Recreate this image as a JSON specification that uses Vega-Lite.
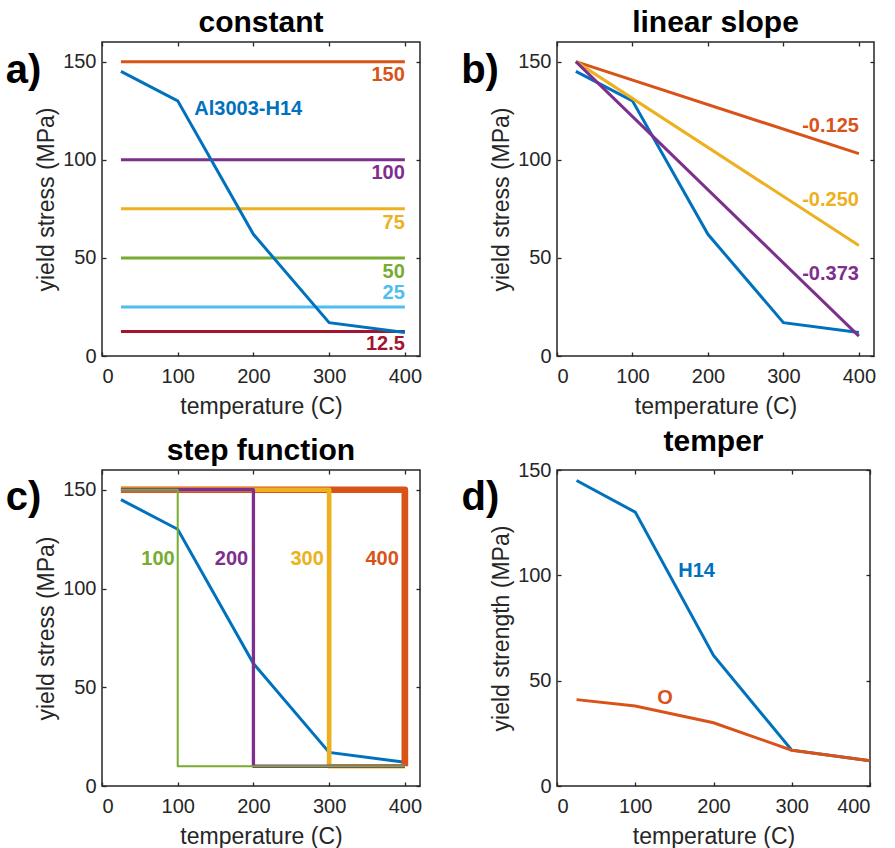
{
  "$schema": "https://vega.github.io/schema/vega-lite/v6.json",
  "background": "white",
  "autosize": {"type": "pad"},
  "padding": {"left": 5, "top": 7, "right": 5, "bottom": 5},
  "bounds": "flush",
  "columns": 2,
  "align": "all",
  "spacing": {"row": 112, "column": 137},
  "resolve": {"scale": {"x": "independent", "y": "independent", "color": "independent"}},
  "datasets": {
    "h14": [
      {"T": 25, "s": 145}, {"T": 100, "s": 130}, {"T": 200, "s": 62}, {"T": 300, "s": 17}, {"T": 400, "s": 12}
    ],
    "temperO": [
      {"T": 25, "s": 41}, {"T": 100, "s": 38}, {"T": 200, "s": 30}, {"T": 300, "s": 17}, {"T": 400, "s": 12}
    ],
    "constants": [
      {"level": "150", "T": 25, "s": 150}, {"level": "150", "T": 400, "s": 150},
      {"level": "100", "T": 25, "s": 100}, {"level": "100", "T": 400, "s": 100},
      {"level": "75", "T": 25, "s": 75}, {"level": "75", "T": 400, "s": 75},
      {"level": "50", "T": 25, "s": 50}, {"level": "50", "T": 400, "s": 50},
      {"level": "25", "T": 25, "s": 25}, {"level": "25", "T": 400, "s": 25},
      {"level": "12.5", "T": 25, "s": 12.5}, {"level": "12.5", "T": 400, "s": 12.5}
    ],
    "constLabels": [
      {"level": "150", "T": 400, "s": 143},
      {"level": "100", "T": 400, "s": 93},
      {"level": "75", "T": 400, "s": 68},
      {"level": "50", "T": 400, "s": 43},
      {"level": "25", "T": 400, "s": 32},
      {"level": "12.5", "T": 400, "s": 6}
    ],
    "slopes": [
      {"slope": "-0.125", "T": 25, "s": 150}, {"slope": "-0.125", "T": 400, "s": 103.1},
      {"slope": "-0.250", "T": 25, "s": 150}, {"slope": "-0.250", "T": 400, "s": 56.3},
      {"slope": "-0.373", "T": 25, "s": 150}, {"slope": "-0.373", "T": 400, "s": 10.1}
    ],
    "slopeLabels": [
      {"slope": "-0.125", "T": 400, "s": 117},
      {"slope": "-0.250", "T": 400, "s": 79.5},
      {"slope": "-0.373", "T": 400, "s": 42}
    ],
    "steps": [
      {"step": "100", "i": 1, "T": 25, "s": 150}, {"step": "100", "i": 2, "T": 100, "s": 150}, {"step": "100", "i": 3, "T": 100, "s": 10}, {"step": "100", "i": 4, "T": 400, "s": 10},
      {"step": "200", "i": 1, "T": 25, "s": 150}, {"step": "200", "i": 2, "T": 200, "s": 150}, {"step": "200", "i": 3, "T": 200, "s": 10}, {"step": "200", "i": 4, "T": 400, "s": 10},
      {"step": "300", "i": 1, "T": 25, "s": 150}, {"step": "300", "i": 2, "T": 300, "s": 150}, {"step": "300", "i": 3, "T": 300, "s": 10}, {"step": "300", "i": 4, "T": 400, "s": 10},
      {"step": "400", "i": 1, "T": 25, "s": 150}, {"step": "400", "i": 2, "T": 400, "s": 150}, {"step": "400", "i": 3, "T": 400, "s": 10}
    ],
    "stepLabels": [
      {"step": "100", "T": 96, "s": 115},
      {"step": "200", "T": 193, "s": 115},
      {"step": "300", "T": 293, "s": 115},
      {"step": "400", "T": 392, "s": 115}
    ]
  },
  "concat": [
    {
      "width": 318, "height": 314,
      "title": "constant",
      "resolve": {"axis": {"x": "independent", "y": "independent"}},
      "layer": [
        {
          "data": {"name": "constants"},
          "mark": {"type": "line", "strokeWidth": 3},
          "encoding": {
            "x": {"field": "T", "type": "quantitative", "scale": {"domain": [0, 420], "nice": false, "zero": false},
                  "axis": {"orient": "bottom", "values": [0, 100, 200, 300, 400], "title": "temperature (C)", "tickSize": -4, "labelPadding": 14, "titlePadding": 9}},
            "y": {"field": "s", "type": "quantitative", "scale": {"domain": [0, 160], "nice": false, "zero": false},
                  "axis": {"orient": "left", "values": [0, 50, 100, 150], "title": "yield stress (MPa)", "tickSize": -4, "labelPadding": 10, "titlePadding": 4}},
            "color": {"field": "level", "type": "nominal", "legend": null,
                      "scale": {"domain": ["150", "100", "75", "50", "25", "12.5"], "range": ["#D95319", "#7E2F8E", "#EDB120", "#77AC30", "#4DBEEE", "#A2142F"]}}
          }
        },
        {
          "data": {"name": "h14"},
          "mark": {"type": "line", "color": "#0072BD", "strokeWidth": 3},
          "encoding": {
            "x": {"field": "T", "type": "quantitative", "axis": null},
            "y": {"field": "s", "type": "quantitative", "axis": null}
          }
        },
        {
          "data": {"name": "constLabels"},
          "mark": {"type": "text", "align": "right", "baseline": "middle", "fontSize": 20, "fontWeight": "bold"},
          "encoding": {
            "x": {"field": "T", "type": "quantitative", "axis": null},
            "y": {"field": "s", "type": "quantitative", "axis": null},
            "text": {"field": "level"},
            "color": {"field": "level", "type": "nominal", "legend": null}
          }
        },
        {
          "data": {"values": [{"label": "Al3003-H14", "T": 122, "s": 126}]},
          "mark": {"type": "text", "align": "left", "baseline": "middle", "fontSize": 20, "fontWeight": "bold", "color": "#0072BD"},
          "encoding": {
            "x": {"field": "T", "type": "quantitative", "axis": null},
            "y": {"field": "s", "type": "quantitative", "axis": null},
            "text": {"field": "label"}
          }
        },
        {
          "data": {"values": [{"label": "a)", "T": -127, "s": 139}]},
          "mark": {"type": "text", "align": "left", "baseline": "alphabetic", "fontSize": 40, "fontWeight": "bold", "color": "black"},
          "encoding": {
            "x": {"field": "T", "type": "quantitative", "axis": null},
            "y": {"field": "s", "type": "quantitative", "axis": null},
            "text": {"field": "label"}
          }
        },
        {
          "data": {"name": "h14"},
          "mark": {"type": "point", "opacity": 0},
          "encoding": {
            "x": {"field": "T", "type": "quantitative", "axis": {"orient": "top", "values": [0, 100, 200, 300, 400], "labels": false, "title": null, "tickSize": -4}},
            "y": {"field": "s", "type": "quantitative", "axis": {"orient": "right", "values": [0, 50, 100, 150], "labels": false, "title": null, "tickSize": -4}}
          }
        }
      ]
    },
    {
      "width": 317, "height": 314,
      "title": "linear slope",
      "resolve": {"axis": {"x": "independent", "y": "independent"}},
      "layer": [
        {
          "data": {"name": "h14"},
          "mark": {"type": "line", "color": "#0072BD", "strokeWidth": 3},
          "encoding": {
            "x": {"field": "T", "type": "quantitative", "scale": {"domain": [0, 420], "nice": false, "zero": false},
                  "axis": {"orient": "bottom", "values": [0, 100, 200, 300, 400], "title": "temperature (C)", "tickSize": -4, "labelPadding": 14, "titlePadding": 9}},
            "y": {"field": "s", "type": "quantitative", "scale": {"domain": [0, 160], "nice": false, "zero": false},
                  "axis": {"orient": "left", "values": [0, 50, 100, 150], "title": "yield stress (MPa)", "tickSize": -4, "labelPadding": 10, "titlePadding": 4}}
          }
        },
        {
          "data": {"name": "slopes"},
          "mark": {"type": "line", "strokeWidth": 3},
          "encoding": {
            "x": {"field": "T", "type": "quantitative", "axis": null},
            "y": {"field": "s", "type": "quantitative", "axis": null},
            "color": {"field": "slope", "type": "nominal", "legend": null,
                      "scale": {"domain": ["-0.125", "-0.250", "-0.373"], "range": ["#D95319", "#EDB120", "#7E2F8E"]}}
          }
        },
        {
          "data": {"name": "slopeLabels"},
          "mark": {"type": "text", "align": "right", "baseline": "middle", "fontSize": 20, "fontWeight": "bold"},
          "encoding": {
            "x": {"field": "T", "type": "quantitative", "axis": null},
            "y": {"field": "s", "type": "quantitative", "axis": null},
            "text": {"field": "slope"},
            "color": {"field": "slope", "type": "nominal", "legend": null}
          }
        },
        {
          "data": {"values": [{"label": "b)", "T": -127, "s": 139}]},
          "mark": {"type": "text", "align": "left", "baseline": "alphabetic", "fontSize": 40, "fontWeight": "bold", "color": "black"},
          "encoding": {
            "x": {"field": "T", "type": "quantitative", "axis": null},
            "y": {"field": "s", "type": "quantitative", "axis": null},
            "text": {"field": "label"}
          }
        },
        {
          "data": {"name": "h14"},
          "mark": {"type": "point", "opacity": 0},
          "encoding": {
            "x": {"field": "T", "type": "quantitative", "axis": {"orient": "top", "values": [0, 100, 200, 300, 400], "labels": false, "title": null, "tickSize": -4}},
            "y": {"field": "s", "type": "quantitative", "axis": {"orient": "right", "values": [0, 50, 100, 150], "labels": false, "title": null, "tickSize": -4}}
          }
        }
      ]
    },
    {
      "width": 318, "height": 316,
      "title": "step function",
      "resolve": {"axis": {"x": "independent", "y": "independent"}},
      "layer": [
        {
          "data": {"name": "h14"},
          "mark": {"type": "line", "color": "#0072BD", "strokeWidth": 3},
          "encoding": {
            "x": {"field": "T", "type": "quantitative", "scale": {"domain": [0, 420], "nice": false, "zero": false},
                  "axis": {"orient": "bottom", "values": [0, 100, 200, 300, 400], "title": "temperature (C)", "tickSize": -4, "labelPadding": 14, "titlePadding": 9}},
            "y": {"field": "s", "type": "quantitative", "scale": {"domain": [0, 160], "nice": false, "zero": false},
                  "axis": {"orient": "left", "values": [0, 50, 100, 150], "title": "yield stress (MPa)", "tickSize": -4, "labelPadding": 10, "titlePadding": 4}}
          }
        },
        {
          "data": {"name": "steps"},
          "transform": [{"filter": "datum.step == '400'"}],
          "mark": {"type": "line", "strokeWidth": 6.7, "color": "#D95319", "strokeJoin": "round"},
          "encoding": {
            "x": {"field": "T", "type": "quantitative", "axis": null},
            "y": {"field": "s", "type": "quantitative", "axis": null},
            "order": {"field": "i", "type": "quantitative"}
          }
        },
        {
          "data": {"name": "steps"},
          "transform": [{"filter": "datum.step == '300'"}],
          "mark": {"type": "line", "strokeWidth": 4.7, "color": "#EDB120", "strokeJoin": "round"},
          "encoding": {
            "x": {"field": "T", "type": "quantitative", "axis": null},
            "y": {"field": "s", "type": "quantitative", "axis": null},
            "order": {"field": "i", "type": "quantitative"}
          }
        },
        {
          "data": {"name": "steps"},
          "transform": [{"filter": "datum.step == '200'"}],
          "mark": {"type": "line", "strokeWidth": 3.3, "color": "#7E2F8E", "strokeJoin": "round"},
          "encoding": {
            "x": {"field": "T", "type": "quantitative", "axis": null},
            "y": {"field": "s", "type": "quantitative", "axis": null},
            "order": {"field": "i", "type": "quantitative"}
          }
        },
        {
          "data": {"name": "steps"},
          "transform": [{"filter": "datum.step == '100'"}],
          "mark": {"type": "line", "strokeWidth": 2, "color": "#77AC30", "strokeJoin": "round"},
          "encoding": {
            "x": {"field": "T", "type": "quantitative", "axis": null},
            "y": {"field": "s", "type": "quantitative", "axis": null},
            "order": {"field": "i", "type": "quantitative"}
          }
        },
        {
          "data": {"name": "stepLabels"},
          "mark": {"type": "text", "align": "right", "baseline": "middle", "fontSize": 20, "fontWeight": "bold"},
          "encoding": {
            "x": {"field": "T", "type": "quantitative", "axis": null},
            "y": {"field": "s", "type": "quantitative", "axis": null},
            "text": {"field": "step"},
            "color": {"field": "step", "type": "nominal", "legend": null,
                      "scale": {"domain": ["100", "200", "300", "400"], "range": ["#77AC30", "#7E2F8E", "#EDB120", "#D95319"]}}
          }
        },
        {
          "data": {"values": [{"label": "c)", "T": -127, "s": 140}]},
          "mark": {"type": "text", "align": "left", "baseline": "alphabetic", "fontSize": 40, "fontWeight": "bold", "color": "black"},
          "encoding": {
            "x": {"field": "T", "type": "quantitative", "axis": null},
            "y": {"field": "s", "type": "quantitative", "axis": null},
            "text": {"field": "label"}
          }
        },
        {
          "data": {"name": "h14"},
          "mark": {"type": "point", "opacity": 0},
          "encoding": {
            "x": {"field": "T", "type": "quantitative", "axis": {"orient": "top", "values": [0, 100, 200, 300, 400], "labels": false, "title": null, "tickSize": -4}},
            "y": {"field": "s", "type": "quantitative", "axis": {"orient": "right", "values": [0, 50, 100, 150], "labels": false, "title": null, "tickSize": -4}}
          }
        }
      ]
    },
    {
      "width": 313, "height": 316,
      "title": "temper",
      "resolve": {"axis": {"x": "independent", "y": "independent"}},
      "layer": [
        {
          "data": {"name": "h14"},
          "mark": {"type": "line", "color": "#0072BD", "strokeWidth": 3},
          "encoding": {
            "x": {"field": "T", "type": "quantitative", "scale": {"domain": [0, 400], "nice": false, "zero": false},
                  "axis": {"orient": "bottom", "values": [0, 100, 200, 300, 400], "title": "temperature (C)", "tickSize": -4, "labelPadding": 14, "titlePadding": 9}},
            "y": {"field": "s", "type": "quantitative", "scale": {"domain": [0, 150], "nice": false, "zero": false},
                  "axis": {"orient": "left", "values": [0, 50, 100, 150], "title": "yield strength (MPa)", "tickSize": -4, "labelPadding": 10, "titlePadding": 4}}
          }
        },
        {
          "data": {"name": "temperO"},
          "mark": {"type": "line", "color": "#D95319", "strokeWidth": 3},
          "encoding": {
            "x": {"field": "T", "type": "quantitative", "axis": null},
            "y": {"field": "s", "type": "quantitative", "axis": null}
          }
        },
        {
          "data": {"values": [{"label": "H14", "T": 155, "s": 102}]},
          "mark": {"type": "text", "align": "left", "baseline": "middle", "fontSize": 20, "fontWeight": "bold", "color": "#0072BD"},
          "encoding": {
            "x": {"field": "T", "type": "quantitative", "axis": null},
            "y": {"field": "s", "type": "quantitative", "axis": null},
            "text": {"field": "label"}
          }
        },
        {
          "data": {"values": [{"label": "O", "T": 138, "s": 42}]},
          "mark": {"type": "text", "align": "center", "baseline": "middle", "fontSize": 20, "fontWeight": "bold", "color": "#D95319"},
          "encoding": {
            "x": {"field": "T", "type": "quantitative", "axis": null},
            "y": {"field": "s", "type": "quantitative", "axis": null},
            "text": {"field": "label"}
          }
        },
        {
          "data": {"values": [{"label": "d)", "T": -122, "s": 131}]},
          "mark": {"type": "text", "align": "left", "baseline": "alphabetic", "fontSize": 40, "fontWeight": "bold", "color": "black"},
          "encoding": {
            "x": {"field": "T", "type": "quantitative", "axis": null},
            "y": {"field": "s", "type": "quantitative", "axis": null},
            "text": {"field": "label"}
          }
        },
        {
          "data": {"name": "h14"},
          "mark": {"type": "point", "opacity": 0},
          "encoding": {
            "x": {"field": "T", "type": "quantitative", "axis": {"orient": "top", "values": [0, 100, 200, 300, 400], "labels": false, "title": null, "tickSize": -4}},
            "y": {"field": "s", "type": "quantitative", "axis": {"orient": "right", "values": [0, 50, 100, 150], "labels": false, "title": null, "tickSize": -4}}
          }
        }
      ]
    }
  ],
  "config": {
    "font": "Liberation Sans",
    "view": {"stroke": "#262626", "strokeWidth": 1.5},
    "axis": {
      "grid": false, "domain": false,
      "labelFont": "Liberation Sans", "labelFontSize": 20, "labelColor": "#262626",
      "titleFont": "Liberation Sans", "titleFontSize": 23, "titleFontWeight": "normal", "titleColor": "#262626",
      "tickColor": "#262626", "tickWidth": 1.3
    },
    "title": {"font": "Liberation Sans", "fontSize": 30, "fontWeight": "bold", "color": "#000000", "offset": 3, "anchor": "middle"},
    "text": {"font": "Liberation Sans"}
  }
}
